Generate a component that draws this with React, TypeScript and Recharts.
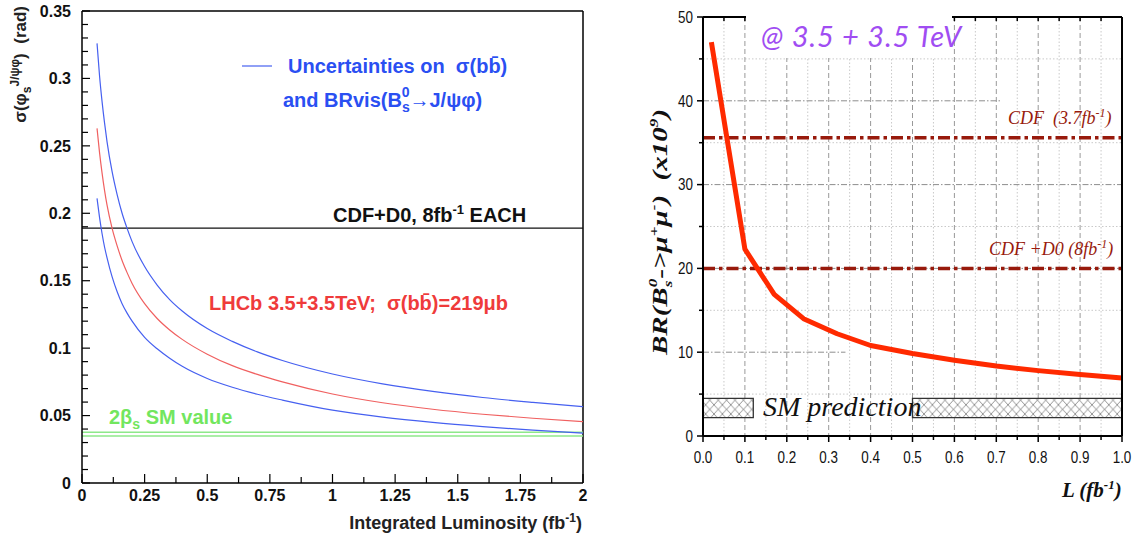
import React from 'react';
import { LineChart, Line, XAxis, YAxis, ReferenceLine, ReferenceArea, CartesianGrid } from 'recharts';

// ---------- Left panel: sigma(phi_s) vs integrated luminosity ----------
const lumiLeft = [0.06, 0.07, 0.08, 0.09, 0.1, 0.12, 0.14, 0.16, 0.18, 0.2, 0.25, 0.3, 0.35, 0.4, 0.5, 0.6, 0.7, 0.8, 1.0, 1.2, 1.4, 1.6, 1.8, 2.0];
const sigmaUpper = [0.326, 0.302, 0.283, 0.267, 0.253, 0.231, 0.214, 0.2, 0.1888, 0.179, 0.1605, 0.1468, 0.136, 0.1275, 0.1145, 0.105, 0.0972, 0.0908, 0.0808, 0.0735, 0.0679, 0.0634, 0.0598, 0.0566];
const sigmaCentral = [0.263, 0.245, 0.23, 0.217, 0.206, 0.189, 0.176, 0.165, 0.156, 0.148, 0.133, 0.122, 0.1135, 0.1065, 0.0955, 0.087, 0.0805, 0.075, 0.066, 0.0595, 0.0547, 0.051, 0.048, 0.0455];
const sigmaLower = [0.211, 0.197, 0.185, 0.175, 0.167, 0.153, 0.142, 0.133, 0.126, 0.12, 0.108, 0.0995, 0.0925, 0.0865, 0.0775, 0.071, 0.0658, 0.0615, 0.054, 0.0488, 0.0449, 0.0418, 0.0392, 0.037];
const leftYTicks = [0, 0.01, 0.02, 0.03, 0.04, 0.05, 0.06, 0.07, 0.08, 0.09, 0.1, 0.11, 0.12, 0.13, 0.14, 0.15, 0.16, 0.17, 0.18, 0.19, 0.2, 0.21, 0.22, 0.23, 0.24, 0.25, 0.26, 0.27, 0.28, 0.29, 0.3, 0.31, 0.32, 0.33, 0.34, 0.35];
const leftXTicks = [0, 0.125, 0.25, 0.375, 0.5, 0.625, 0.75, 0.875, 1, 1.125, 1.25, 1.375, 1.5, 1.625, 1.75, 1.875, 2];
const cdfD0Sigma = 0.189;
const smValueLines = [0.0349, 0.0376];

// ---------- Right panel: BR(Bs->mumu) limit vs L ----------
const lumiRight = [0.02, 0.1, 0.17, 0.24, 0.32, 0.4, 0.5, 0.6, 0.7, 0.8, 0.9, 1.0];
const brLimit = [47.0, 22.3, 16.9, 14.0, 12.2, 10.8, 9.85, 9.05, 8.35, 7.8, 7.33, 6.93];
const rightXTicks = [0, 0.05, 0.1, 0.15, 0.2, 0.25, 0.3, 0.35, 0.4, 0.45, 0.5, 0.55, 0.6, 0.65, 0.7, 0.75, 0.8, 0.85, 0.9, 0.95, 1.0];
const rightYTicks = [0, 5, 10, 15, 20, 25, 30, 35, 40, 45, 50];
const minorGridX = [0.05, 0.15, 0.25, 0.35, 0.45, 0.55, 0.65, 0.75, 0.85, 0.95];
const majorGridX = [0.1, 0.2, 0.3, 0.4, 0.5, 0.6, 0.7, 0.8, 0.9];
const minorGridY = [5, 15, 25, 35, 45];
const majorGridY = [20, 30];
const cdfLimit = 35.6;
const cdfD0Limit = 20;
const smPrediction = [2.2, 4.5];
const smBoxLeft = [0, 0.12];
const smBoxRight = [0.5, 1.0];

const leftData = lumiLeft.map((L, i) => ({ L, upper: sigmaUpper[i], central: sigmaCentral[i], lower: sigmaLower[i] }));
const rightData = lumiRight.map((L, i) => ({ L, br: brLimit[i] }));

const SANS = "'Liberation Sans', Arial, Helvetica, sans-serif";
const SERIF = "'Liberation Serif', 'Times New Roman', serif";

const isMult = (v: number, step: number) => Math.abs(v / step - Math.round(v / step)) < 1e-6;

const LeftYTick = (p: any) => {
  const v = p.payload.value;
  const major = isMult(v, 0.05);
  return (
    <g>
      <line x1={p.x} x2={p.x + (major ? 8 : 6)} y1={p.y} y2={p.y} stroke="#000" strokeWidth={1.2} />
      {major && (
        <text x={p.x - 11} y={p.y} dy="0.36em" textAnchor="end" fontFamily={SANS} fontWeight="bold" fontSize={16} fill="#111">
          {String(+v.toFixed(2))}
        </text>
      )}
    </g>
  );
};

const LeftXTick = (p: any) => {
  const v = p.payload.value;
  const major = isMult(v, 0.25);
  return (
    <g>
      <line x1={p.x} x2={p.x} y1={p.y} y2={p.y - (major ? 9 : 6)} stroke="#000" strokeWidth={1.2} />
      {major && (
        <text x={p.x} y={p.y + 12} dy="0.36em" textAnchor="middle" fontFamily={SANS} fontWeight="bold" fontSize={16} fill="#111">
          {String(v)}
        </text>
      )}
    </g>
  );
};

const RightYTick = (p: any) => {
  const v = p.payload.value;
  const major = isMult(v, 10);
  return (
    <g>
      <line x1={p.x} x2={p.x - (major ? 6 : 4)} y1={p.y} y2={p.y} stroke="#000" strokeWidth={1.5} />
      {major && (
        <text transform={`translate(${p.x - 10},${p.y}) scale(0.84,1)`} x={0} y={0} dy="0.36em" textAnchor="end" fontFamily={SANS} fontSize={16} fill="#111">
          {String(v)}
        </text>
      )}
    </g>
  );
};

const RightXTick = (p: any) => {
  const v = p.payload.value;
  const major = isMult(v, 0.1);
  return (
    <g>
      <line x1={p.x} x2={p.x} y1={p.y} y2={p.y + (major ? 6 : 4)} stroke="#000" strokeWidth={1.5} />
      {major && (
        <text transform={`translate(${p.x},${p.y + 21}) scale(0.84,1)`} x={0} y={0} dy="0.36em" textAnchor="middle" fontFamily={SANS} fontSize={16} fill="#111">
          {v.toFixed(1)}
        </text>
      )}
    </g>
  );
};

const TopTick = (p: any) => (
  <line x1={p.x} x2={p.x} y1={p.y} y2={p.y + 4} stroke="#000" strokeWidth={1.5} />
);
const RightSideTick = (p: any) => (
  <line x1={p.x} x2={p.x - 4} y1={p.y} y2={p.y} stroke="#000" strokeWidth={1.5} />
);

const BLUE = '#4660f0';
const BLUE_TXT = '#2a4ff2';
const RED = '#f06060';
const RED_TXT = '#ef3b3b';
const GREEN = '#8ee88a';
const GREEN_TXT = '#72e65e';
const DARKRED = '#981a0c';

export default function App() {
  return (
    <div style={{ position: 'absolute', left: 0, top: 0, width: 1136, height: 536, background: '#fff', overflow: 'hidden' }}>
      {/* Left panel */}
      <div style={{ position: 'absolute', left: 0, top: 0 }}>
        <LineChart width={600} height={536} data={leftData} margin={{ top: 11, right: 17, bottom: 0, left: 0 }}>
          <XAxis dataKey="L" type="number" domain={[0, 2]} ticks={leftXTicks} interval={0} height={53}
            tickSize={0} tickMargin={0} tickLine={false} axisLine={{ stroke: '#000', strokeWidth: 1.5 }}
            tick={(p: any) => <LeftXTick {...p} />} />
          <YAxis type="number" domain={[0, 0.35]} ticks={leftYTicks} interval={0} width={82}
            tickSize={0} tickMargin={0} tickLine={false} axisLine={{ stroke: '#000', strokeWidth: 1.5 }}
            tick={(p: any) => <LeftYTick {...p} />} />
          <ReferenceLine y={0.35} stroke="#000" strokeWidth={1.5} />
          <ReferenceLine x={2} stroke="#000" strokeWidth={1.5} />
          <ReferenceLine y={cdfD0Sigma} stroke="#111" strokeWidth={1.3} />
          <ReferenceLine y={smValueLines[0]} stroke={GREEN} strokeWidth={1.6} />
          <ReferenceLine y={smValueLines[1]} stroke={GREEN} strokeWidth={1.6} />
          <Line dataKey="upper" type="monotone" stroke={BLUE} strokeWidth={1.2} dot={false} isAnimationActive={false} />
          <Line dataKey="central" type="monotone" stroke={RED} strokeWidth={1.2} dot={false} isAnimationActive={false} />
          <Line dataKey="lower" type="monotone" stroke={BLUE} strokeWidth={1.2} dot={false} isAnimationActive={false} />

          <text transform="rotate(-90 26 6)" x={26} y={6} textAnchor="end" fontFamily={SANS} fontWeight="bold" fontSize={17} fill="#222">
            σ(φ<tspan dy={5} fontSize={12}>s</tspan><tspan dy={-12} fontSize={12}>J/ψφ</tspan><tspan dy={7}>){'\u00a0\u00a0'}(rad)</tspan>
          </text>
          <text x={582} y={529} textAnchor="end" fontFamily={SANS} fontWeight="bold" fontSize={18} fill="#222">
            Integrated Luminosity (fb<tspan dy={-7} fontSize={12}>-1</tspan><tspan dy={7}>)</tspan>
          </text>
          <line x1={242} x2={272} y1={66} y2={66} stroke={BLUE} strokeWidth={1.2} />
          <text x={288} y={73} fontFamily={SANS} fontWeight="bold" fontSize={20} fill={BLUE_TXT}>
            Uncertainties on{'\u00a0\u00a0'}σ(bb̄)
          </text>
          <text x={283} y={107} fontFamily={SANS} fontWeight="bold" fontSize={20} fill={BLUE_TXT}>
            and BRvis(B<tspan dy={5} fontSize={14}>s</tspan><tspan dx={-8} dy={-15} fontSize={14}>0</tspan><tspan dy={10}>→J/ψφ)</tspan>
          </text>
          <text x={333} y={222} fontFamily={SANS} fontWeight="bold" fontSize={20} fill="#111">
            CDF+D0, 8fb<tspan dy={-8} fontSize={13}>-1</tspan><tspan dy={8}> EACH</tspan>
          </text>
          <text x={209} y={310} fontFamily={SANS} fontWeight="bold" fontSize={20} fill={RED_TXT}>
            LHCb 3.5+3.5TeV;{'\u00a0\u00a0'}σ(bb̄)=219μb
          </text>
          <text x={109} y={424} fontFamily={SANS} fontWeight="bold" fontSize={20} fill={GREEN_TXT}>
            2β<tspan dy={5} fontSize={14}>s</tspan><tspan dy={-5}> SM value</tspan>
          </text>
        </LineChart>
      </div>

      {/* Right panel */}
      <div style={{ position: 'absolute', left: 630, top: 0 }}>
        <LineChart width={506} height={536} data={rightData} margin={{ top: 0, right: 0, bottom: 0, left: 0 }}>
          <defs>
            <pattern id="xhatch" patternUnits="userSpaceOnUse" width={8.4} height={9.2}>
              <rect width={8.4} height={9.2} fill="#fff" />
              <path d="M0,0L8.4,9.2M8.4,0L0,9.2" stroke="#8a8a8a" strokeWidth={0.9} />
            </pattern>
          </defs>
          <CartesianGrid horizontalValues={minorGridY} verticalValues={minorGridX} stroke="#c9c9c9" strokeDasharray="1.5 2" />
          <CartesianGrid horizontal={false} verticalValues={majorGridX} stroke="#999" strokeDasharray="5 3" />
          <CartesianGrid vertical={false} horizontalValues={majorGridY} stroke="#8e8e8e" strokeDasharray="6 2 1.5 2" />
          <XAxis dataKey="L" type="number" domain={[0, 1]} ticks={rightXTicks} interval={0} height={100}
            tickSize={0} tickMargin={0} tickLine={false} axisLine={{ stroke: '#000', strokeWidth: 2 }}
            tick={(p: any) => <RightXTick {...p} />} />
          <XAxis xAxisId="top" dataKey="L" orientation="top" type="number" domain={[0, 1]} ticks={rightXTicks} interval={0} height={17}
            tickSize={0} tickMargin={0} tickLine={false} axisLine={{ stroke: '#000', strokeWidth: 2 }}
            tick={(p: any) => <TopTick {...p} />} />
          <YAxis type="number" domain={[0, 50]} ticks={rightYTicks} interval={0} width={73}
            tickSize={0} tickMargin={0} tickLine={false} axisLine={{ stroke: '#000', strokeWidth: 2 }}
            tick={(p: any) => <RightYTick {...p} />} />
          <YAxis yAxisId="right" orientation="right" type="number" domain={[0, 50]} ticks={rightYTicks} interval={0} width={14}
            tickSize={0} tickMargin={0} tickLine={false} axisLine={{ stroke: '#000', strokeWidth: 2 }}
            tick={(p: any) => <RightSideTick {...p} />} />
          <ReferenceLine segment={[{ x: 0, y: 40 }, { x: 0.71, y: 40 }]} stroke="#8e8e8e" strokeDasharray="6 2 1.5 2" />
          <ReferenceLine segment={[{ x: 0, y: 10 }, { x: 0.34, y: 10 }]} stroke="#8e8e8e" strokeDasharray="6 2 1.5 2" />
          <ReferenceArea x1={smBoxLeft[0]} x2={smBoxLeft[1]} y1={smPrediction[0]} y2={smPrediction[1]}
            fill="url(#xhatch)" fillOpacity={1} stroke="#333" strokeWidth={1.3} />
          <ReferenceArea x1={smBoxRight[0]} x2={smBoxRight[1]} y1={smPrediction[0]} y2={smPrediction[1]}
            fill="url(#xhatch)" fillOpacity={1} stroke="#333" strokeWidth={1.3} />
          <ReferenceLine y={cdfLimit} stroke={DARKRED} strokeWidth={3.5} strokeDasharray="12 4 3.5 4" />
          <ReferenceLine y={cdfD0Limit} stroke={DARKRED} strokeWidth={3.5} strokeDasharray="12 4 3.5 4" />
          <Line dataKey="br" type="linear" stroke="#ff2a00" strokeWidth={5} strokeLinejoin="round" dot={false} isAnimationActive={false} />

          <text x={378} y={124} fontFamily={SERIF} fontStyle="italic" fontSize={18} fill={DARKRED}>
            CDF{'\u00a0\u00a0'}(3.7fb<tspan dy={-7} fontSize={12}>-1</tspan><tspan dy={7}>)</tspan>
          </text>
          <text x={359} y={255} fontFamily={SERIF} fontStyle="italic" fontSize={18} fill={DARKRED}>
            CDF +D0 (8fb<tspan dy={-7} fontSize={12}>-1</tspan><tspan dy={7}>)</tspan>
          </text>
          <text transform="translate(37,232) rotate(-90) scale(1.32,1)" x={0} y={0} textAnchor="middle" fontFamily={SERIF} fontStyle="italic" fontWeight="bold" fontSize={22} fill="#111">
            BR(B<tspan dy={5} fontSize={13}>s</tspan><tspan dx={-5} dy={-15} fontSize={13}>0</tspan><tspan dy={10}>-&gt;μ</tspan><tspan dy={-9} fontSize={13}>+</tspan><tspan dy={9}>μ</tspan><tspan dy={-9} fontSize={13}>-</tspan><tspan dy={9}>){'\u00a0\u00a0'}(x10</tspan><tspan dy={-9} fontSize={13}>9</tspan><tspan dy={9}>)</tspan>
          </text>
          <text x={432} y={497} fontFamily={SERIF} fontStyle="italic" fontWeight="bold" fontSize={21} fill="#111">
            L (fb<tspan dy={-8} fontSize={13}>-1</tspan><tspan dy={8}>)</tspan>
          </text>
        </LineChart>
      </div>

      {/* Overlay: title box and SM label on the right panel */}
      <svg width={1136} height={536} style={{ position: 'absolute', left: 0, top: 0, pointerEvents: 'none' }}>
        <rect x={746} y={0} width={206} height={58} fill="#fff" />
        <text x={761} y={47} fontFamily="Lato, 'Open Sans', sans-serif" fontStyle="italic" fontSize={29} letterSpacing={0.8} fill="#a04df2">
          @ 3.5 + 3.5 TeV
        </text>
        <text x={763} y={416} fontFamily={SERIF} fontStyle="italic" fontSize={28} fill="#111">
          SM prediction
        </text>
      </svg>
    </div>
  );
}
